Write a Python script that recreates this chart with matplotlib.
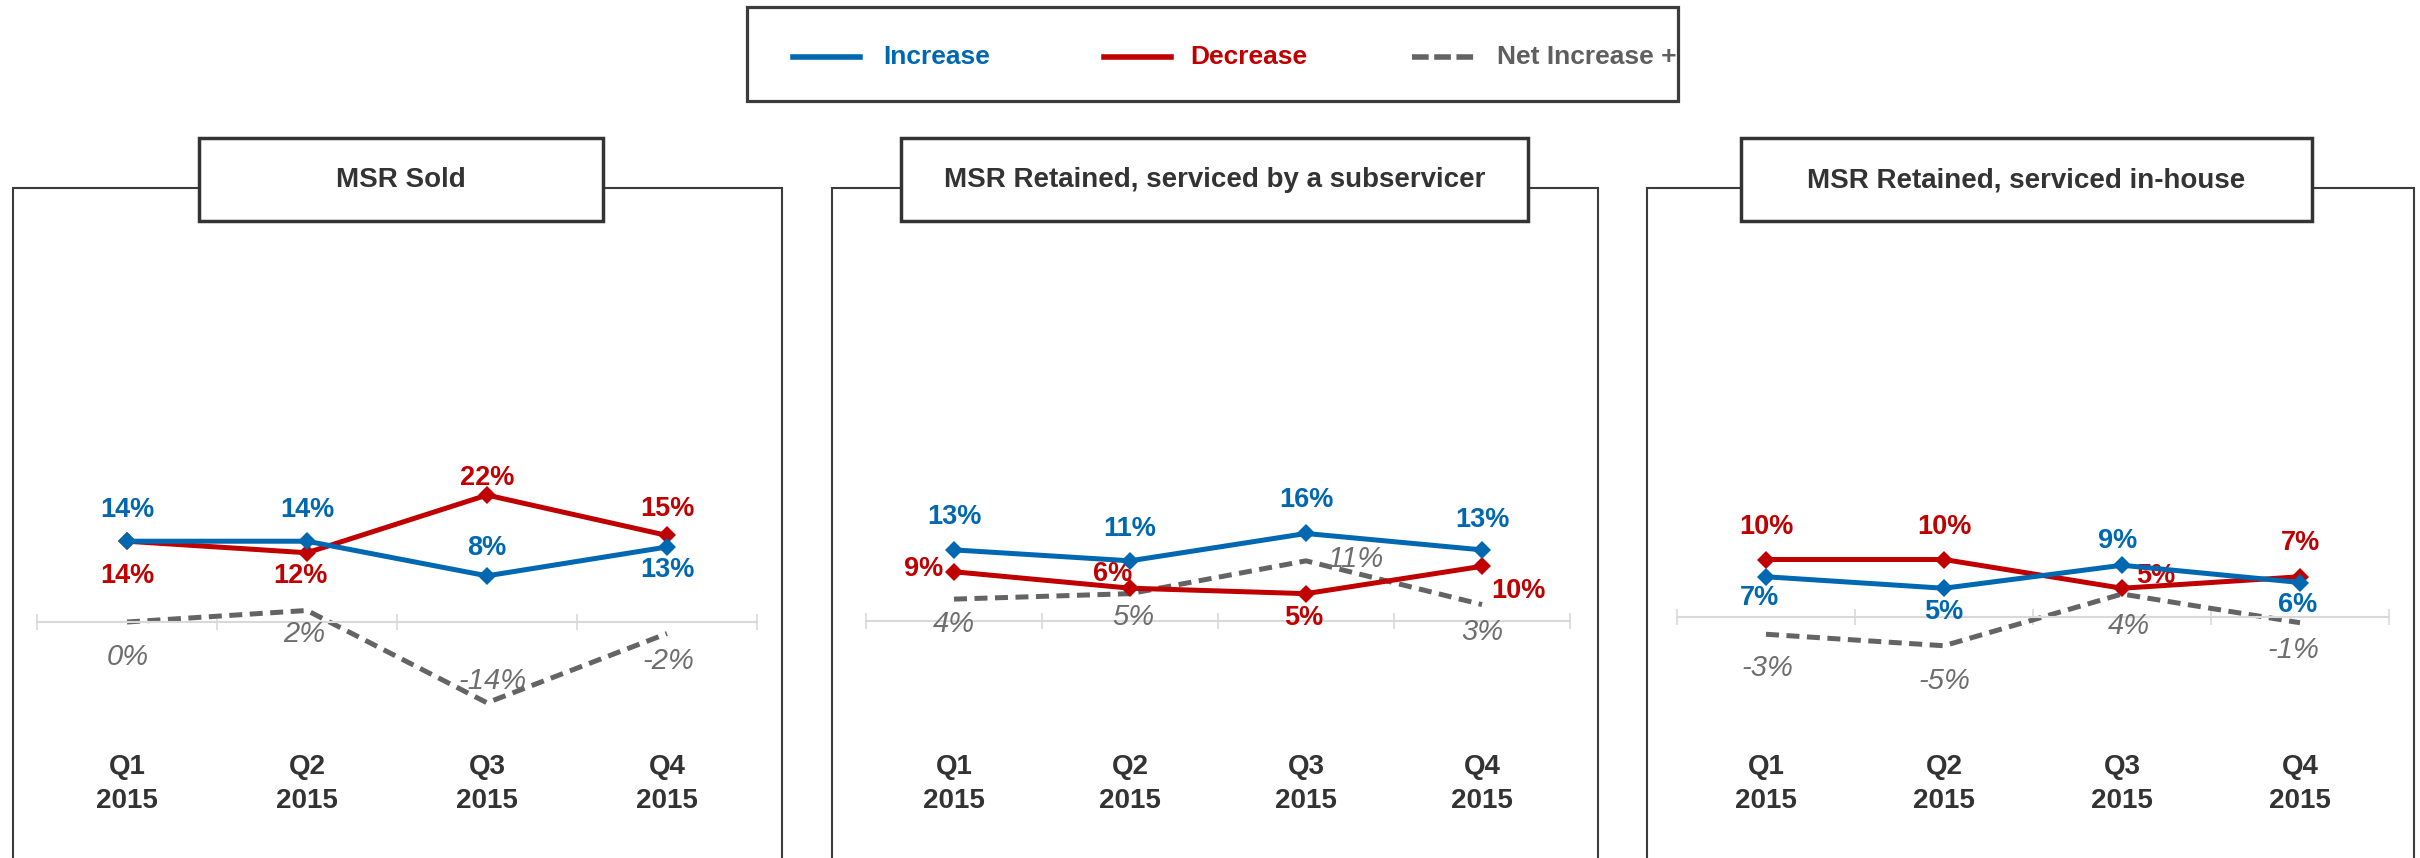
# Quarterly MSR outlook: share of respondents expecting increase / decrease, and the net.
# Output: out.png (2420x858)

import matplotlib.pyplot as plt
from matplotlib.lines import Line2D
from matplotlib.patches import Rectangle
from matplotlib.transforms import blended_transform_factory

plt.rcParams["font.family"] = ["Liberation Sans", "DejaVu Sans"]

QUARTERS = ["Q1\n2015", "Q2\n2015", "Q3\n2015", "Q4\n2015"]
TITLES = ["MSR Sold", "MSR Retained, serviced by a subservicer", "MSR Retained, serviced in-house"]

SOLD_INC = [14, 14, 8, 13]
SOLD_DEC = [14, 12, 22, 15]
SOLD_NET = [0, 2, -14, -2]

SUB_INC = [13, 11, 16, 13]
SUB_DEC = [9, 6, 5, 10]
SUB_NET = [4, 5, 11, 3]

HOUSE_INC = [7, 5, 9, 6]
HOUSE_DEC = [10, 10, 5, 7]
HOUSE_NET = [-3, -5, 4, -1]

BLUE = "#0067B1"
RED = "#C00000"
GRAY = "#646464"
NET_TXT = "#6E6E6E"
DARK = "#333333"
AXIS = "#D9D9D9"

W, H = 2420, 858


def fx(x):
    return x / W


def fy(y):
    return 1 - y / H


# layout (pixels): frame left/right, title box left/right, axis left/right, zero line, px per %
PANELS = [
    dict(frame=(13, 782), box=(199, 603), axis=(37, 757), zero=622, scale=5.77),
    dict(frame=(832, 1598), box=(901, 1528), axis=(866, 1570), zero=621, scale=5.47),
    dict(frame=(1647, 2414), box=(1741, 2312), axis=(1677, 2389), zero=617, scale=5.75),
]

# label offsets in pixels (dx, dy) from each point, per panel: inc, dec, net
OFFSETS = [
    ([(0, 31), (0, 31), (0, 28), (0, -23)],
     [(0, -35), (-7, -23), (0, 17), (0, 26)],
     [(1, -35), (-3, -24), (6, 22), (1, -27)]),
    ([(0, 33), (0, 32), (0, 33), (0, 30)],
     [(-30, 3), (-17, 14), (-2, -24), (36, -25)],
     [(0, -25), (3, -23), (49, 2), (0, -27)]),
    ([(-6, -21), (0, -24), (-4, 24), (-2, -22)],
     [(0, 32), (0, 32), (34, 12), (0, 34)],
     [(1, -34), (0, -35), (7, -32), (-7, -27)]),
]

AX_TOP, AX_BOTTOM = 230, 740


def draw_panel(fig, cfg, title, inc, dec, net, offs):
    fl, fr = cfg["frame"]
    fig.add_artist(Rectangle((fx(fl), fy(920)), (fr - fl) / W, (920 - 188) / H,
                             transform=fig.transFigure, fill=False,
                             edgecolor="#3C3C3C", linewidth=1.5, zorder=1))
    bl, br = cfg["box"]
    fig.add_artist(Rectangle((fx(bl), fy(221)), (br - bl) / W, (221 - 138) / H,
                             transform=fig.transFigure, facecolor="white",
                             edgecolor="#333333", linewidth=2.5, zorder=2))
    fig.text(fx((bl + br) / 2), fy(180), title, ha="center", va="center",
             fontsize=20, fontweight="bold", color=DARK, zorder=3)

    al, ar = cfg["axis"]
    zero, scale = cfg["zero"], cfg["scale"]
    ax = fig.add_axes([fx(al), fy(AX_BOTTOM), (ar - al) / W, (AX_BOTTOM - AX_TOP) / H])
    ax.patch.set_visible(False)
    ax.set_xlim(-0.5, 3.5)
    ax.set_ylim(-(AX_BOTTOM - zero) / scale, (zero - AX_TOP) / scale)

    for s in ["top", "right", "left"]:
        ax.spines[s].set_visible(False)
    ax.spines["bottom"].set_position(("data", 0))
    ax.spines["bottom"].set_color(AXIS)
    ax.spines["bottom"].set_linewidth(1.5)
    ax.set_yticks([])
    ax.set_xticks(range(4))
    ax.tick_params(axis="x", which="major", length=0, labelbottom=False)
    ax.set_xticks([-0.5, 0.5, 1.5, 2.5, 3.5], minor=True)
    ax.tick_params(axis="x", which="minor", direction="inout", length=12,
                   width=1.2, color=AXIS)

    x = list(range(4))
    ax.plot(x, net, color=GRAY, lw=3.6, dashes=(2.6, 1.5), zorder=2, clip_on=False)
    ax.plot(x, dec, color=RED, lw=3.6, marker="D", ms=9.5, mew=0, zorder=3, clip_on=False)
    ax.plot(x, inc, color=BLUE, lw=3.6, marker="D", ms=9.5, mew=0, zorder=4, clip_on=False)

    inc_off, dec_off, net_off = offs
    for i in x:
        ax.annotate(f"{inc[i]}%", (i, inc[i]), xytext=inc_off[i], textcoords="offset pixels",
                    ha="center", va="center", fontsize=19.5, fontweight="bold", color=BLUE)
        ax.annotate(f"{dec[i]}%", (i, dec[i]), xytext=dec_off[i], textcoords="offset pixels",
                    ha="center", va="center", fontsize=19.5, fontweight="bold", color=RED)
        ax.annotate(f"{net[i]}%", (i, net[i]), xytext=net_off[i], textcoords="offset pixels",
                    ha="center", va="center", fontsize=21, fontstyle="italic", color=NET_TXT)

    tr = blended_transform_factory(ax.transData, fig.transFigure)
    for i, q in enumerate(QUARTERS):
        ax.text(i, fy(784), q, transform=tr, ha="center", va="center", fontsize=20,
                fontweight="bold", color=DARK, linespacing=1.35)


def main():
    fig = plt.figure(figsize=(W / 100, H / 100), dpi=100)

    # legend box
    fig.add_artist(Rectangle((fx(747), fy(101)), (1678 - 747) / W, (101 - 7) / H,
                             transform=fig.transFigure, fill=False,
                             edgecolor="#3C3C3C", linewidth=2.3))
    legend = [
        (793, 860, 883, "Increase", BLUE, None),
        (1104, 1171, 1190, "Decrease", RED, None),
        (1412, 1478, 1497, "Net Increase +", "#5F5F5F", (3.0, 1.0)),
    ]
    for x0, x1, xt, label, col, dashes in legend:
        ln = Line2D([fx(x0), fx(x1)], [fy(57), fy(57)], transform=fig.transFigure,
                    color=GRAY if dashes else col, lw=4)
        if dashes:
            ln.set_dashes(dashes)
        fig.add_artist(ln)
        fig.text(fx(xt), fy(57), label, ha="left", va="center", fontsize=19,
                 fontweight="bold", color=col)

    data = [
        (SOLD_INC, SOLD_DEC, SOLD_NET),
        (SUB_INC, SUB_DEC, SUB_NET),
        (HOUSE_INC, HOUSE_DEC, HOUSE_NET),
    ]
    for cfg, title, (inc, dec, net), offs in zip(PANELS, TITLES, data, OFFSETS):
        draw_panel(fig, cfg, title, inc, dec, net, offs)

    fig.savefig("out.png", dpi=100)


if __name__ == "__main__":
    main()
